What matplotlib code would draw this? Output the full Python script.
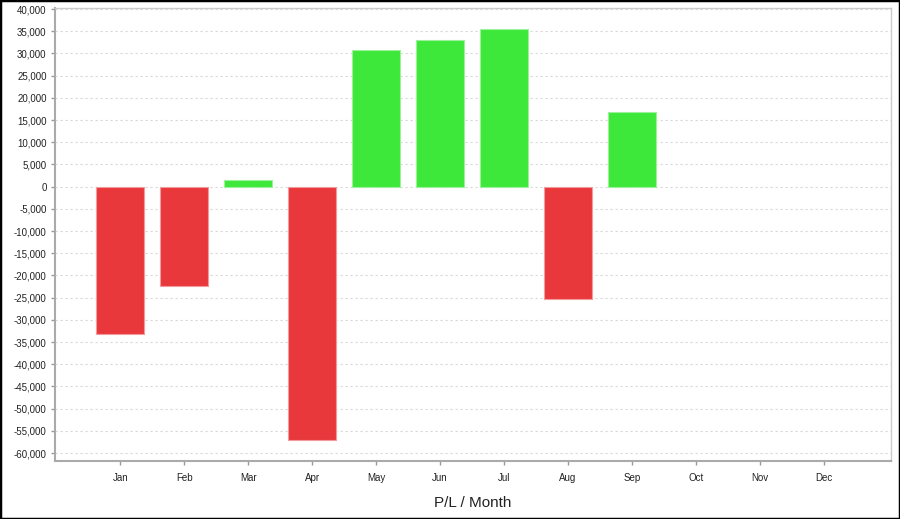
import numpy as np
import matplotlib.pyplot as plt
from matplotlib.patches import Rectangle
from matplotlib.ticker import FuncFormatter, MultipleLocator

plt.rcParams['font.family'] = ['Liberation Sans', 'DejaVu Sans']

# monthly profit / loss
months = ['Jan', 'Feb', 'Mar', 'Apr', 'May', 'Jun', 'Jul', 'Aug', 'Sep', 'Oct', 'Nov', 'Dec']
pl = [-33200, -22400, 1500, -57100, 30900, 33000, 35600, -25300, 16800, 0, 0, 0]

red = '#e8383c'
green = '#3de83a'

fig = plt.figure(figsize=(9, 5.19), dpi=100)
ax = fig.add_axes([0.0611, 0.1118, 0.9289, 0.8728])

x = np.arange(len(months))
vals = np.array(pl)
shown = vals != 0
colors = [green if v > 0 else red for v in vals[shown]]
edges = ['#9cf29a' if v > 0 else '#f29a9c' for v in vals[shown]]
ax.bar(x[shown], vals[shown], width=0.75, color=colors, edgecolor=edges, linewidth=0.8, zorder=3)

ax.set_xlim(-1.02, 12.05)
ax.set_ylim(-61780, 40250)
ax.set_xticks(x)
ax.set_xticklabels(months)
ax.yaxis.set_major_locator(MultipleLocator(5000))
ax.yaxis.set_major_formatter(FuncFormatter(lambda v, p: f'{int(v):,}'))

ax.grid(axis='y', color='#d8d8d8', linestyle=(0, (2, 2.5)), linewidth=0.8, zorder=0)
ax.tick_params(axis='both', labelsize=7, colors='#999999', labelcolor='#222222', length=3, width=1, pad=3)
ax.tick_params(axis='x', pad=6)

for side in ['left', 'bottom']:
    ax.spines[side].set_color('#aaaaaa')
    ax.spines[side].set_linewidth(1.5)
for side in ['top', 'right']:
    ax.spines[side].set_color('#cccccc')
    ax.spines[side].set_linewidth(1)

ax.set_xlabel('P/L / Month', fontsize=11, color='#222222', labelpad=9)

# black frame around the whole picture
fig.patches.append(Rectangle((0, 0), 1, 1, transform=fig.transFigure, fill=False,
                             edgecolor='black', linewidth=2.5, zorder=10))

fig.savefig('out.png', dpi=100)
